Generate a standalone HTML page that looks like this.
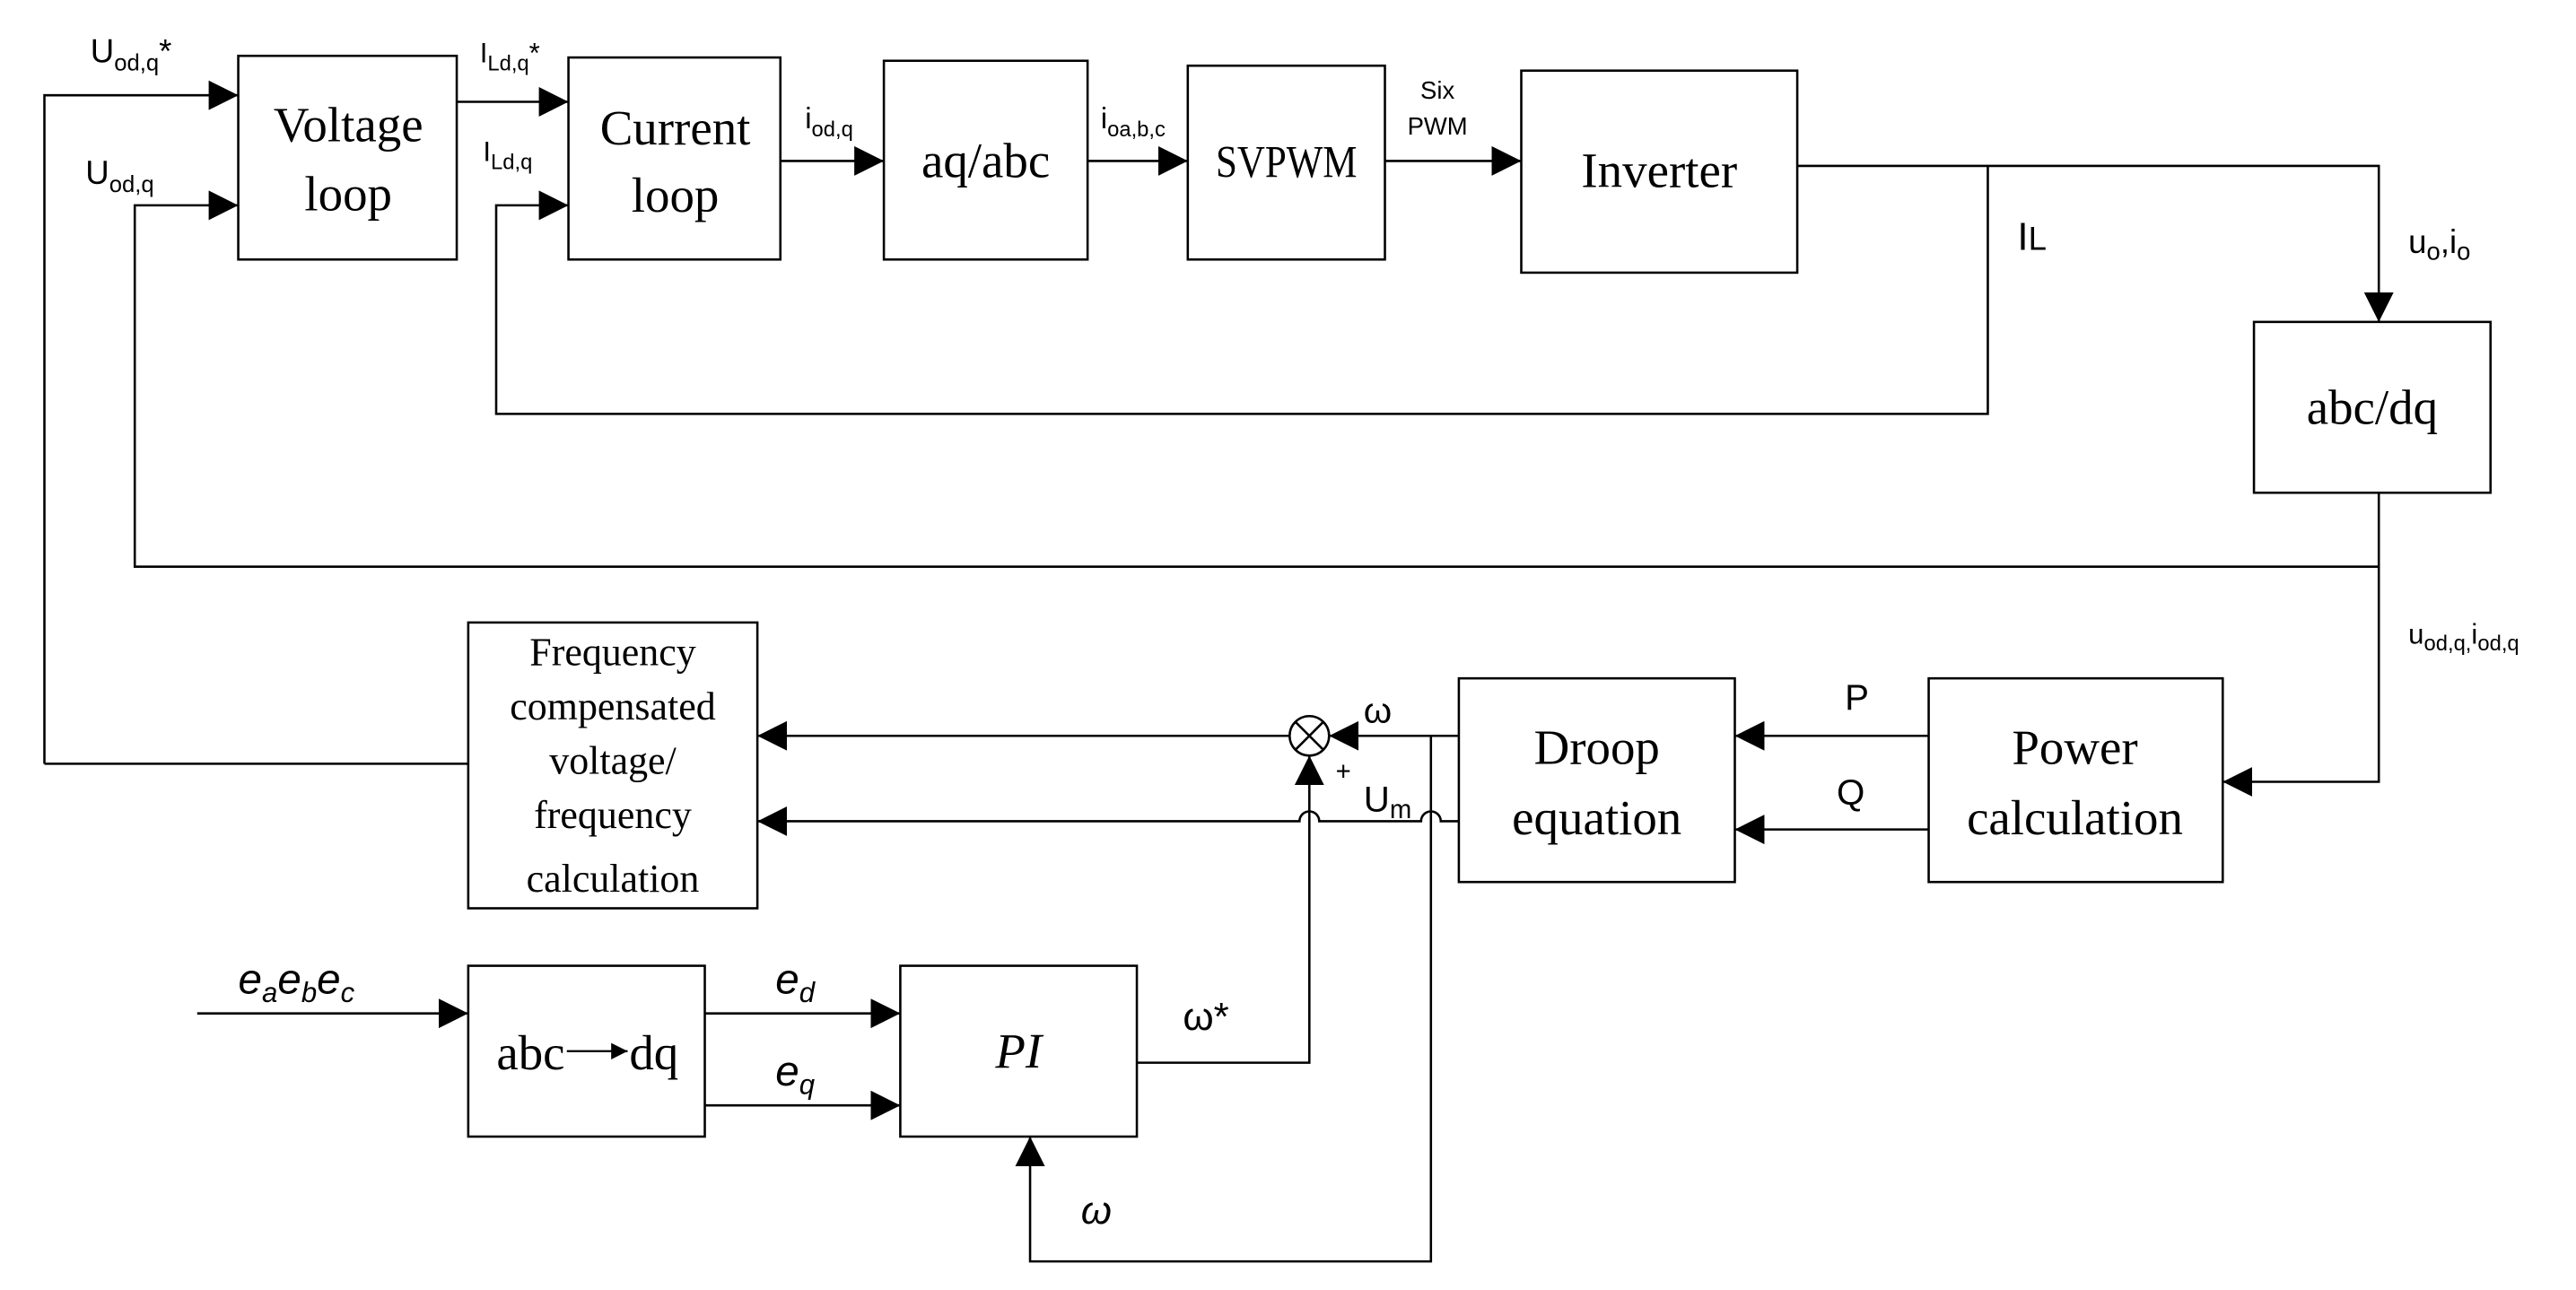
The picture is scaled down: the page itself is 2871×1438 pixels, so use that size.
<!DOCTYPE html>
<html><head><meta charset="utf-8"><style>html,body{margin:0;padding:0;background:#fff}svg{display:block}</style></head>
<body>
<svg width="2871" height="1438" viewBox="0 0 1568 785.4" xmlns="http://www.w3.org/2000/svg">
<defs><marker id="a" viewBox="0 0 10 10" refX="10" refY="5" markerWidth="18" markerHeight="18" markerUnits="userSpaceOnUse" orient="auto"><path d="M0,0L10,5L0,10z" fill="#000"/></marker>
<marker id="s" viewBox="0 0 10 10" refX="10" refY="5" markerWidth="10" markerHeight="10" markerUnits="userSpaceOnUse" orient="auto"><path d="M0,0L10,5L0,10z" fill="#000"/></marker></defs>
<g fill="none" stroke="#000" stroke-width="1.4">
<rect x="145" y="34" width="133" height="124"/>
<rect x="346" y="35" width="129" height="123"/>
<rect x="538" y="37" width="124" height="121"/>
<rect x="723" y="40" width="120" height="118"/>
<rect x="926" y="43" width="168" height="123"/>
<rect x="1372" y="196" width="144" height="104"/>
<rect x="285" y="379" width="176" height="174"/>
<rect x="888" y="413" width="168" height="124"/>
<rect x="1174" y="413" width="179" height="124"/>
<rect x="285" y="588" width="144" height="104"/>
<rect x="548" y="588" width="144" height="104"/>
<path d="M27,465V58H145" marker-end="url(#a)"/>
<path d="M285,465H27"/>
<path d="M1448,345H82V125H145" marker-end="url(#a)"/>
<path d="M278,62H346" marker-end="url(#a)"/>
<path d="M1210,101V252H302V125H346" marker-end="url(#a)"/>
<path d="M475,98H538" marker-end="url(#a)"/>
<path d="M662,98H723" marker-end="url(#a)"/>
<path d="M843,98H926" marker-end="url(#a)"/>
<path d="M1094,101H1448V196" marker-end="url(#a)"/>
<path d="M1448,300V476H1353" marker-end="url(#a)"/>
<path d="M1174,448H1056" marker-end="url(#a)"/>
<path d="M1174,505H1056" marker-end="url(#a)"/>
<path d="M888,448H809" marker-end="url(#a)"/>
<path d="M785,448H461" marker-end="url(#a)"/>
<circle cx="797" cy="448" r="12"/>
<path d="M788.5,439.5L805.5,456.5M805.5,439.5L788.5,456.5"/>
<path d="M888,500H877a6,6 0 0 0 -12,0H803a6,6 0 0 0 -12,0H461" marker-end="url(#a)"/>
<path d="M871,448V768H627V692" marker-end="url(#a)"/>
<path d="M692,647H797V460" marker-end="url(#a)"/>
<path d="M120,617H285" marker-end="url(#a)"/>
<path d="M429,617H548" marker-end="url(#a)"/>
<path d="M429,673H548" marker-end="url(#a)"/>
<path d="M345,640H382" marker-end="url(#s)" stroke-width="1.2"/>
</g>
<g font-family="Liberation Serif, serif" font-size="30" text-anchor="middle" fill="#000">
<text x="212" y="86">Voltage</text><text x="212" y="128">loop</text>
<text x="411" y="88">Current</text><text x="411" y="129">loop</text>
<text x="600" y="108">aq/abc</text>
<text x="783" y="108" font-size="28" textLength="86" lengthAdjust="spacingAndGlyphs">SVPWM</text>
<text x="1010" y="114">Inverter</text>
<text x="1444" y="258">abc/dq</text>
<g font-size="24"><text x="373" y="405">Frequency</text><text x="373" y="438">compensated</text><text x="373" y="471">voltage/</text><text x="373" y="504">frequency</text><text x="373" y="543">calculation</text></g>
<text x="972" y="465">Droop</text><text x="972" y="508">equation</text>
<text x="1263" y="465">Power</text><text x="1263" y="508">calculation</text>
<text x="323" y="651">abc</text><text x="398" y="651">dq</text>
<text x="620" y="650" font-style="italic">PI</text>
</g>
<g font-family="Liberation Sans, sans-serif" fill="#000" font-size="20">
<text x="55" y="38">U<tspan font-size="14" dy="5">od,q</tspan><tspan dy="-5">*</tspan></text>
<text x="52" y="112">U<tspan font-size="14" dy="5">od,q</tspan></text>
<text x="292" y="38" font-size="17">I<tspan font-size="13" dy="5">Ld,q</tspan><tspan dy="-5">*</tspan></text>
<text x="294" y="98" font-size="17">I<tspan font-size="13" dy="5">Ld,q</tspan></text>
<text x="490" y="78" font-size="18">i<tspan font-size="13" dy="5">od,q</tspan></text>
<text x="670" y="78" font-size="18">i<tspan font-size="13" dy="5">oa,b,c</tspan></text>
<text x="875" y="60" font-size="15" text-anchor="middle">Six</text>
<text x="875" y="82" font-size="15" text-anchor="middle">PWM</text>
<text x="1228" y="152" font-size="24">I<tspan font-size="20">L</tspan></text>
<text x="1466" y="154" font-size="20">u<tspan font-size="15" dy="4">o</tspan><tspan dy="-4">,i</tspan><tspan font-size="15" dy="4">o</tspan></text>
<text x="1466" y="392" font-size="17">u<tspan font-size="13" dy="4">od,q,</tspan><tspan dy="-4">i</tspan><tspan font-size="13" dy="4">od,q</tspan></text>
<text x="1123" y="432" font-size="22">P</text>
<text x="1118" y="490" font-size="22">Q</text>
<text x="830" y="440" font-size="22">ω</text>
<text x="813" y="475" font-size="16">+</text>
<text x="830" y="494" font-size="22">U<tspan font-size="16" dy="4">m</tspan></text>
<text x="720" y="627" font-size="24">ω*</text>
<text x="658" y="745" font-size="24" font-style="italic">ω</text>
<g font-style="italic" font-size="26"><text x="145" y="605">e<tspan font-size="17" dy="5">a</tspan><tspan dy="-5">e</tspan><tspan font-size="17" dy="5">b</tspan><tspan dy="-5">e</tspan><tspan font-size="17" dy="5">c</tspan></text>
<text x="472" y="605">e<tspan font-size="17" dy="5">d</tspan></text>
<text x="472" y="661">e<tspan font-size="17" dy="5">q</tspan></text></g>
</g>
</svg>
</body></html>
